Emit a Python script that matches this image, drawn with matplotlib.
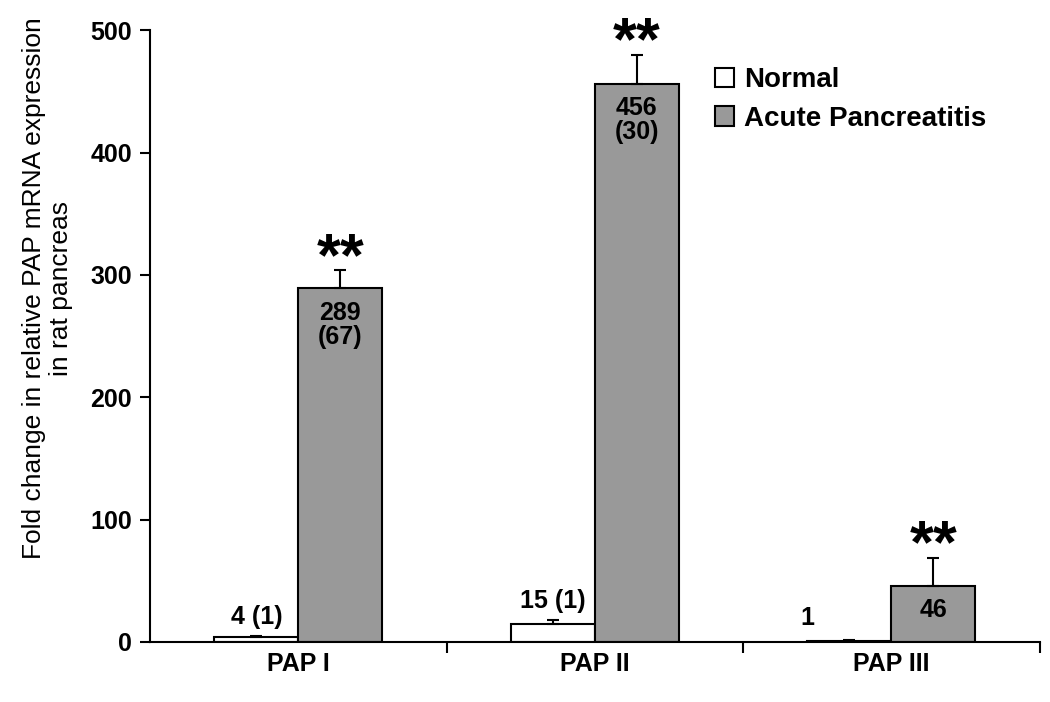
import matplotlib
matplotlib.use("Agg")
import matplotlib.pyplot as plt
import numpy as np

plt.rcParams['font.family'] = ['Liberation Sans', 'DejaVu Sans']
plt.rcParams['font.weight'] = 'bold'

categories = ['PAP I', 'PAP II', 'PAP III']
normal = [4, 15, 1]
normal_err = [1, 3, 1]
normal_lbl = ['4 (1)', '15 (1)', '1']
acute = [289, 456, 46]
acute_err = [15, 24, 23]
acute_lbl = ['289\n(67)', '456\n(30)', '46']

fig = plt.figure(figsize=(10.5, 7.02), dpi=100)
ax = fig.add_axes([0.143, 0.0855, 0.847, 0.8715])

x = np.arange(len(categories))
w = 0.283
ax.bar(x - w / 2, normal, w, color='white', edgecolor='black', linewidth=1.5,
       yerr=[[0] * 3, normal_err], capsize=4,
       error_kw=dict(elinewidth=1.5, capthick=1.5, ecolor='black'), label='Normal')
ax.bar(x + w / 2, acute, w, color='#999999', edgecolor='black', linewidth=1.5,
       yerr=[[0] * 3, acute_err], capsize=4,
       error_kw=dict(elinewidth=1.5, capthick=1.5, ecolor='black'),
       label='Acute Pancreatitis')

for i in range(3):
    # value labels
    ax.text(x[i] + w / 2, acute[i] - 10, acute_lbl[i], ha='center', va='top',
            fontsize=18, fontweight='bold', linespacing=1.0)
    ax.text(x[i] + w / 2, acute[i] + acute_err[i] - 4, '**', ha='center',
            va='baseline', fontsize=44, fontweight='bold')
    if i == 2:
        ax.text(x[i] - w, normal[i] + 9, normal_lbl[i], ha='center',
                va='bottom', fontsize=18, fontweight='bold')
    else:
        ax.text(x[i] - w / 2, normal[i] + normal_err[i] + 6, normal_lbl[i],
                ha='center', va='bottom', fontsize=18, fontweight='bold')

ax.set_xlim(-0.5, 2.5)
ax.set_ylim(0, 500)
ax.set_yticks([0, 100, 200, 300, 400, 500])
ax.set_xticks(x)
ax.set_xticklabels(categories, fontsize=18, fontweight='bold')
ax.set_xticks([0.5, 1.5, 2.5], minor=True)
ax.tick_params(axis='x', which='major', length=0, pad=7)
ax.tick_params(axis='x', which='minor', length=8, width=1.5, direction='out')
ax.tick_params(axis='y', length=7, width=1.5, labelsize=18, pad=6)
for lbl in ax.get_yticklabels():
    lbl.set_fontweight('bold')

ax.spines['top'].set_visible(False)
ax.spines['right'].set_visible(False)
ax.spines['left'].set_linewidth(1.5)
ax.spines['bottom'].set_linewidth(1.5)

ax.set_ylabel('Fold change in relative PAP mRNA expression\nin rat pancreas',
              fontsize=19, fontweight='normal', linespacing=1.15)
ax.yaxis.set_label_coords(-0.087, 0.578)

ax.legend(loc='upper left', bbox_to_anchor=(0.607, 0.98), frameon=False,
          handlelength=0.7, handleheight=0.7, handletextpad=0.35,
          labelspacing=0.45, prop={'weight': 'bold', 'size': 20})

fig.savefig('out.png', dpi=100)
